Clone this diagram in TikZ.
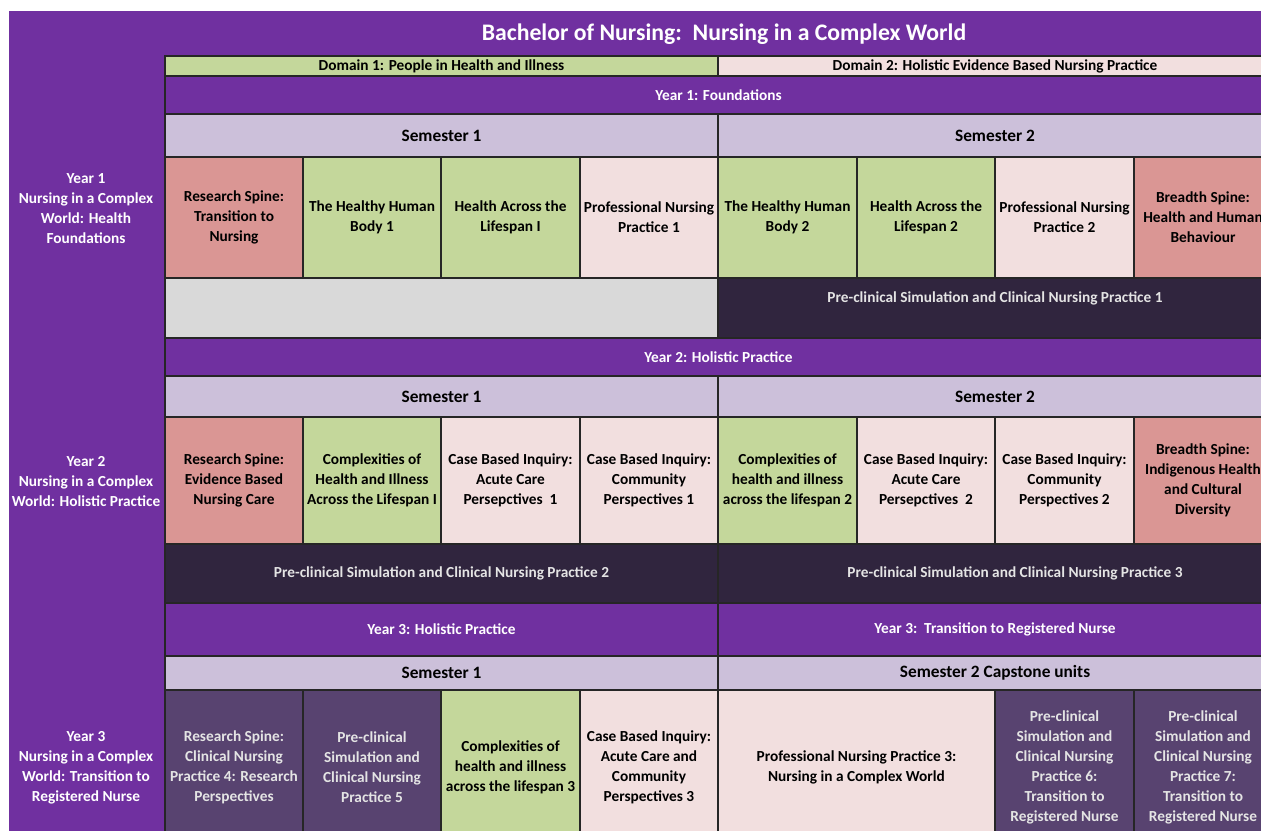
\documentclass[tikz,border=0pt]{standalone}
\usepackage{fontspec}
\setmainfont{Carlito}

\definecolor{nurplum}{RGB}{112,48,160}
\definecolor{nurgreen}{RGB}{196,215,155}
\definecolor{nurlav}{RGB}{204,192,218}
\definecolor{nurrose}{RGB}{218,150,148}
\definecolor{nurblush}{RGB}{242,223,223}
\definecolor{nurnight}{RGB}{48,37,62}
\definecolor{nurgrape}{RGB}{88,67,112}
\definecolor{nurgray}{RGB}{217,217,217}
\definecolor{nurpale}{RGB}{228,228,228}

\tikzset{
  cell/.style={draw=black!85, line width=1pt, inner sep=0pt, outer sep=0pt,
    align=center, font=\bfseries\fontsize{11.5}{15}\selectfont},
  span/.style n args={4}{minimum width={(#3-#1)*0.75pt}, minimum height={(#4-#2)*0.75pt},
    at={({(#1+#3)/2},{(#2+#4)/2})}},
  bar/.style={cell, fill=nurplum, text=white},
  sem/.style={cell, fill=nurlav, font=\bfseries\fontsize{13}{16}\selectfont},
  sim/.style={cell, fill=nurnight, text=nurpale},
  side/.style={align=center, text=white, font=\bfseries\fontsize{11.5}{15}\selectfont}
}

\begin{document}
\begin{tikzpicture}[x=0.75pt, y=-0.75pt]
    \useasboundingbox (0,0) rectangle (1261,831);

    % Purple background and title
    \fill[nurplum] (9,11) rectangle (1300,860);
    \node[text=white, font=\bfseries\fontsize{17.8}{20}\selectfont] (title) at (724,34)
        {Bachelor of Nursing:\ \ Nursing in a Complex World};

    % Year labels on the left
    \node[side] (yearA) at (86,209) {Year 1\\Nursing in a Complex\\World: Health\\Foundations};
    \node[side] (yearB) at (86,482) {Year 2\\Nursing in a Complex\\World: Holistic Practice};
    \node[side] (yearC) at (86,768) {Year 3\\Nursing in a Complex\\World: Transition to\\Registered Nurse};

    % Domains
    \node[cell, fill=nurgreen, span={165}{56}{718}{76}] (domA) {Domain 1: People in Health and Illness};
    \node[cell, fill=nurblush, span={718}{56}{1272}{76}] (domB) {Domain 2: Holistic Evidence Based Nursing Practice};

    % Year 1
    \node[bar, span={165}{76}{1272}{114}] (foundA) {Year 1: Foundations};
    \node[sem, span={165}{114}{718}{157}] (semA) {Semester 1};
    \node[sem, span={718}{114}{1272}{157}] (semB) {Semester 2};
    \foreach \n/\a/\b/\f/\c/\t in {
        spineA/165/303/nurrose/black/{Research Spine:\\Transition to\\Nursing},
        bodyA/303/441/nurgreen/black/{The Healthy Human\\Body 1},
        spanA/441/580/nurgreen/black/{Health Across the\\Lifespan I},
        pnpA/580/718/nurblush/black/{Professional Nursing\\Practice 1},
        bodyB/718/857/nurgreen/black/{The Healthy Human\\Body 2},
        spanB/857/995/nurgreen/black/{Health Across the\\Lifespan 2},
        pnpB/995/1134/nurblush/black/{Professional Nursing\\Practice 2},
        breadthA/1134/1272/nurrose/black/{Breadth Spine:\\Health and Human\\Behaviour}}
        \node[cell, fill=\f, text=\c, span={\a}{157}{\b}{278}] (\n) {\t};
    \node[cell, fill=nurgray, span={165}{278}{718}{338}] (gapA) {};
    \node[sim, text depth=16pt, span={718}{278}{1272}{338}] (simA) {Pre-clinical Simulation and Clinical Nursing Practice 1};

    % Year 2
    \node[bar, span={165}{338}{1272}{376}] (holiB) {Year 2: Holistic Practice};
    \node[sem, span={165}{376}{718}{417}] (semC) {Semester 1};
    \node[sem, span={718}{376}{1272}{417}] (semD) {Semester 2};
    \foreach \n/\a/\b/\f/\c/\t in {
        spineB/165/303/nurrose/black/{Research Spine:\\Evidence Based\\Nursing Care},
        cplxA/303/441/nurgreen/black/{Complexities of\\Health and Illness\\Across the Lifespan I},
        acuteA/441/580/nurblush/black/{Case Based Inquiry:\\Acute Care\\Persepctives\ \ 1},
        commA/580/718/nurblush/black/{Case Based Inquiry:\\Community\\Perspectives 1},
        cplxB/718/857/nurgreen/black/{Complexities of\\health and illness\\across the lifespan 2},
        acuteB/857/995/nurblush/black/{Case Based Inquiry:\\Acute Care\\Persepctives\ \ 2},
        commB/995/1134/nurblush/black/{Case Based Inquiry:\\Community\\Perspectives 2},
        breadthB/1134/1272/nurrose/black/{Breadth Spine:\\Indigenous Health\\and Cultural\\Diversity}}
        \node[cell, fill=\f, text=\c, span={\a}{417}{\b}{544}] (\n) {\t};
    \node[sim, span={165}{544}{718}{603}] (simB) {Pre-clinical Simulation and Clinical Nursing Practice 2};
    \node[sim, span={718}{544}{1272}{603}] (simC) {\hspace{30pt}Pre-clinical Simulation and Clinical Nursing Practice 3};

    % Year 3
    \node[bar, span={165}{603}{718}{656}] (holiC) {Year 3: Holistic Practice};
    \node[bar, span={718}{603}{1272}{656}] (transC) {Year 3:\ \ Transition to Registered Nurse};
    \node[sem, span={165}{656}{718}{690}] (semE) {Semester 1};
    \node[sem, span={718}{656}{1272}{690}] (semF) {Semester 2 Capstone units};
    \foreach \n/\a/\b/\f/\c/\t in {
        spineC/165/303/nurgrape/nurpale/{Research Spine:\\Clinical Nursing\\Practice 4: Research\\Perspectives},
        cnpA/303/441/nurgrape/nurpale/{Pre-clinical\\Simulation and\\Clinical Nursing\\Practice 5},
        cplxC/441/580/nurgreen/black/{Complexities of\\health and illness\\across the lifespan 3},
        caseC/580/718/nurblush/black/{Case Based Inquiry:\\Acute Care and\\Community\\Perspectives 3},
        pnpC/718/995/nurblush/black/{Professional Nursing Practice 3:\\Nursing in a Complex World},
        cnpB/995/1134/nurgrape/nurpale/{Pre-clinical\\Simulation and\\Clinical Nursing\\Practice 6:\\Transition to\\Registered Nurse},
        cnpC/1134/1272/nurgrape/nurpale/{Pre-clinical\\Simulation and\\Clinical Nursing\\Practice 7:\\Transition to\\Registered Nurse}}
        \node[cell, fill=\f, text=\c, span={\a}{690}{\b}{844}] (\n) {\t};
\end{tikzpicture}
\end{document}
